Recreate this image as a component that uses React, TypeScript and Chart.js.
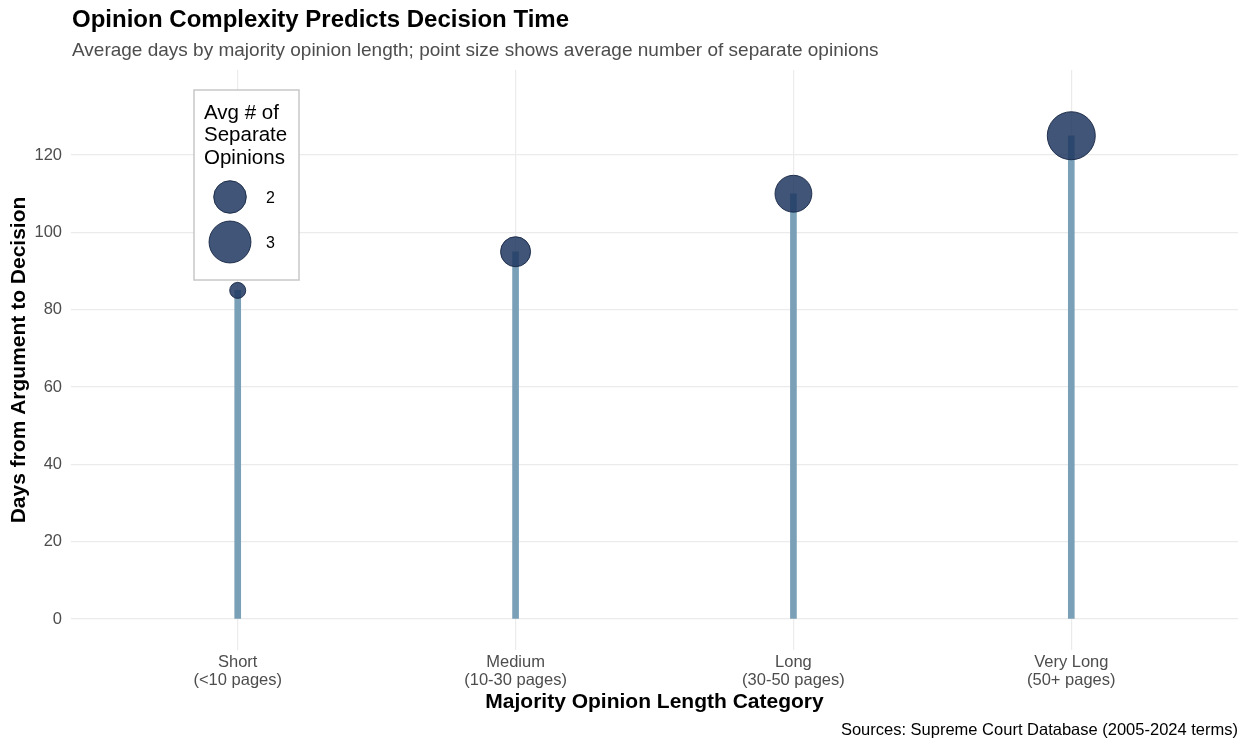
import React, { useEffect, useRef } from "react";
import { Chart, registerables } from "chart.js";

Chart.register(...registerables);

// ---- Data ----
const categories = ["Short", "Medium", "Long", "Very Long"];
const pageRanges = ["(<10 pages)", "(10-30 pages)", "(30-50 pages)", "(50+ pages)"];
const avgDays = [85, 95, 110, 125];
const avgSeparateOpinions = [1.3, 1.8, 2.4, 3.9];
const yTicks = [0, 20, 40, 60, 80, 100, 120];
const legendValues = [2, 3];

const TITLE = "Opinion Complexity Predicts Decision Time";
const SUBTITLE = "Average days by majority opinion length; point size shows average number of separate opinions";
const CAPTION = "Sources: Supreme Court Database (2005-2024 terms)";
const X_TITLE = "Majority Opinion Length Category";
const Y_TITLE = "Days from Argument to Decision";
const LEGEND_TITLE = ["Avg # of", "Separate", "Opinions"];

// ---- Styling ----
const FONT = "'Liberation Sans', Arial, Helvetica, sans-serif";
const SEG_COLOR = "rgb(122,160,184)";
const PT_FILL = "rgba(30,55,95,0.85)";
const PT_BORDER = "rgba(22,38,68,0.9)";
const GRID = "#ebebeb";
const R_MIN = 8;
const R_MAX = 24;

const vMin = Math.min(...avgSeparateOpinions);
const vMax = Math.max(...avgSeparateOpinions);
function radiusFor(v: number) {
  const t = Math.max(0, (v - vMin) / (vMax - vMin));
  return R_MIN + (R_MAX - R_MIN) * Math.sqrt(t);
}

const overlayPlugin = {
  id: "overlay",
  afterDraw(chart: any) {
    const ctx = chart.ctx as CanvasRenderingContext2D;
    const area = chart.chartArea;
    ctx.save();
    // Title
    ctx.fillStyle = "#000";
    ctx.textAlign = "left";
    ctx.textBaseline = "middle";
    ctx.font = `bold 24px ${FONT}`;
    ctx.fillText(TITLE, 72, 20);
    ctx.fillStyle = "#4d4d4d";
    ctx.font = `19px ${FONT}`;
    ctx.fillText(SUBTITLE, 72, 51);
    // Caption
    ctx.fillStyle = "#000";
    ctx.textAlign = "right";
    ctx.font = `16.5px ${FONT}`;
    ctx.fillText(CAPTION, area.right, 730);

    // Legend box
    const bx = 194, by = 90, bw = 105, bh = 190;
    ctx.fillStyle = "#ffffff";
    ctx.fillRect(bx, by, bw, bh);
    ctx.strokeStyle = "#c8c8c8";
    ctx.lineWidth = 1.5;
    ctx.strokeRect(bx, by, bw, bh);
    ctx.fillStyle = "#000";
    ctx.textAlign = "left";
    ctx.font = `20.5px ${FONT}`;
    LEGEND_TITLE.forEach((line, i) => {
      ctx.fillText(line, bx + 10, by + 23 + i * 22.5);
    });
    const keyY = [197, 242];
    legendValues.forEach((v, i) => {
      const r = radiusFor(v);
      ctx.beginPath();
      ctx.arc(bx + 36, keyY[i], r, 0, Math.PI * 2);
      ctx.fillStyle = PT_FILL;
      ctx.fill();
      ctx.strokeStyle = PT_BORDER;
      ctx.lineWidth = 1;
      ctx.stroke();
      ctx.fillStyle = "#000";
      ctx.font = `16px ${FONT}`;
      ctx.fillText(String(v), bx + 72, keyY[i] + 1.5);
    });
    ctx.restore();
  },
};

export default function App() {
  const canvasRef = useRef<HTMLCanvasElement | null>(null);

  useEffect(() => {
    if (!canvasRef.current) return;
    const xs = categories.map((_, i) => i);
    const chart = new Chart(canvasRef.current, {
      type: "bubble",
      data: {
        datasets: [
          {
            type: "bubble",
            data: xs.map((i) => ({ x: i, y: avgDays[i], r: radiusFor(avgSeparateOpinions[i]) })),
            backgroundColor: PT_FILL,
            borderColor: PT_BORDER,
            borderWidth: 1,
            order: 0,
          } as any,
          {
            type: "bar",
            data: xs.map((i) => ({ x: i, y: avgDays[i] })),
            backgroundColor: SEG_COLOR,
            borderWidth: 0,
            barThickness: 6,
            order: 1,
          } as any,
        ],
      },
      options: {
        responsive: false,
        animation: false,
        events: [],
        layout: { autoPadding: false, padding: { top: 70, right: 10, bottom: 29, left: 0 } },
        plugins: {
          legend: { display: false },
          tooltip: { enabled: false },
          title: { display: false },
        },
        scales: {
          x: {
            type: "linear",
            min: -0.6,
            max: categories.length - 1 + 0.6,
            offset: false,
            afterBuildTicks: (scale: any) => {
              scale.ticks = xs.map((v) => ({ value: v }));
            },
            afterFit: (scale: any) => {
              scale.height = 70;
              scale.paddingLeft = 0;
              scale.paddingRight = 0;
            },
            grid: { color: GRID, lineWidth: 1.2, drawTicks: false, offset: false },
            border: { display: false },
            ticks: {
              padding: 3,
              color: "#4d4d4d",
              font: { family: FONT, size: 16.5, lineHeight: 1.12 },
              maxRotation: 0,
              autoSkip: false,
              callback: (value: any) => [categories[value], pageRanges[value]],
            },
            title: {
              display: true,
              text: X_TITLE,
              color: "#000",
              font: { family: FONT, size: 21, weight: "bold", lineHeight: 1.2 },
              padding: { top: 0, bottom: 5 },
            },
          },
          y: {
            type: "linear",
            min: -8,
            max: 142,
            afterBuildTicks: (scale: any) => {
              scale.ticks = yTicks.map((v) => ({ value: v }));
            },
            afterFit: (scale: any) => {
              scale.width = 71;
              scale.paddingTop = 0;
              scale.paddingBottom = 0;
            },
            grid: { color: GRID, lineWidth: 1.2, drawTicks: false },
            border: { display: false },
            ticks: {
              padding: 9,
              color: "#4d4d4d",
              font: { family: FONT, size: 16.5 },
            },
            title: {
              display: true,
              text: Y_TITLE,
              color: "#000",
              font: { family: FONT, size: 21, weight: "bold", lineHeight: 1.2 },
              padding: { top: 7, bottom: 0 },
            },
          },
        },
      } as any,
      plugins: [overlayPlugin],
    });
    return () => chart.destroy();
  }, []);

  return (
    <div style={{ position: "absolute", left: 0, top: 0, width: 1248, height: 749, background: "#fff" }}>
      <canvas ref={canvasRef} width={1248} height={749} style={{ width: 1248, height: 749, display: "block" }} />
    </div>
  );
}
